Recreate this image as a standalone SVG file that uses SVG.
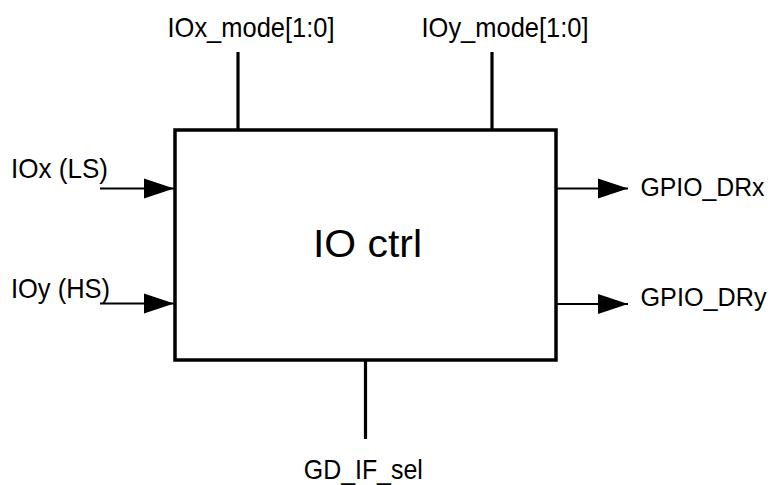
<svg xmlns="http://www.w3.org/2000/svg" width="772" height="485" viewBox="0 0 772 485">
<style>
  text { font-family: "Liberation Sans", Arial, sans-serif; fill: #000; }
  .lbl { font-size: 28px; }
  .lbr { font-size: 26px; }
  .title { font-size: 39px; }
  .box { fill: #fff; stroke: #000; stroke-width: 3.5; }
  .wire { stroke: #000; stroke-width: 2.2; fill: none; }
  .bus { stroke: #000; stroke-width: 3.2; fill: none; }
</style>
<defs>
  <marker id="arr" markerUnits="userSpaceOnUse" markerWidth="32" markerHeight="22" refX="30" refY="11" orient="auto">
    <path d="M0,1 L30,11 L0,21 Z" fill="#000"/>
  </marker>
</defs>
<rect width="772" height="485" fill="#fff"/>
<g id="connectors">
  <line class="bus" x1="238" y1="52" x2="238" y2="130"/>
  <line class="bus" x1="492" y1="52" x2="492" y2="130"/>
  <line class="bus" x1="365.5" y1="360" x2="365.5" y2="439"/>
  <line class="wire" x1="100" y1="188.5" x2="174" y2="188.5" marker-end="url(#arr)"/>
  <line class="wire" x1="100" y1="303.5" x2="174" y2="303.5" marker-end="url(#arr)"/>
  <line class="wire" x1="556" y1="188.5" x2="628" y2="188.5" marker-end="url(#arr)"/>
  <line class="wire" x1="556" y1="304" x2="628" y2="304" marker-end="url(#arr)"/>
</g>
<g id="io_ctrl">
  <rect class="box" x="175" y="130" width="381" height="230"/>
  <text class="title" x="313" y="257" textLength="109" lengthAdjust="spacingAndGlyphs">IO ctrl</text>
</g>
<g id="iox_mode"><text class="lbl" x="167.5" y="37" textLength="167" lengthAdjust="spacingAndGlyphs">IOx_mode[1:0]</text></g>
<g id="ioy_mode"><text class="lbl" x="421.5" y="37" textLength="167" lengthAdjust="spacingAndGlyphs">IOy_mode[1:0]</text></g>
<g id="iox_ls"><text class="lbl" x="11" y="178" textLength="97" lengthAdjust="spacingAndGlyphs">IOx (LS)</text></g>
<g id="ioy_hs"><text class="lbl" x="11" y="298" textLength="99" lengthAdjust="spacingAndGlyphs">IOy (HS)</text></g>
<g id="gpio_drx"><text class="lbr" x="640.5" y="196" textLength="124" lengthAdjust="spacingAndGlyphs">GPIO_DRx</text></g>
<g id="gpio_dry"><text class="lbr" x="640.5" y="306" textLength="126" lengthAdjust="spacingAndGlyphs">GPIO_DRy</text></g>
<g id="gd_if_sel"><text class="lbl" x="303.8" y="479" textLength="119" lengthAdjust="spacingAndGlyphs">GD_IF_sel</text></g>
</svg>
